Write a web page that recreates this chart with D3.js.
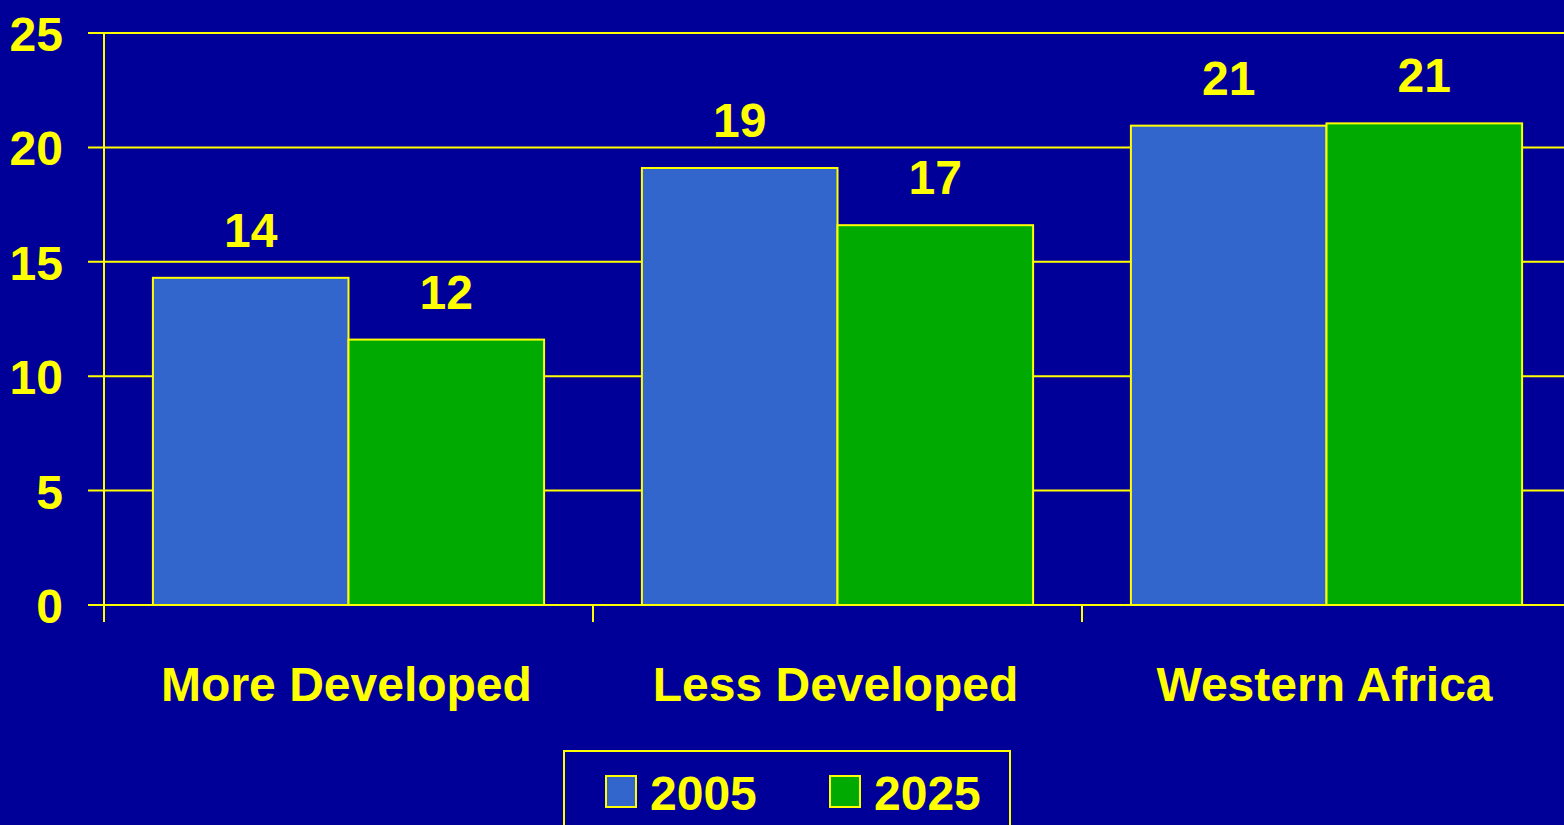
<!DOCTYPE html>
<html>
<head>
<meta charset="utf-8">
<script src="https://cdn.jsdelivr.net/npm/d3@7"></script>
<style>
  html, body { margin: 0; padding: 0; background: #000099; overflow: hidden; }
  svg { display: block; }
  text { font-family: "Liberation Sans", Arial, sans-serif; font-weight: bold; fill: #FFFF00; }
</style>
</head>
<body>
<svg id="chart" width="1564" height="825"></svg>
<script>
const categories = ["More Developed", "Less Developed", "Western Africa"];
const seriesNames = ["2005", "2025"];
const values2005 = [14.3, 19.1, 20.95];
const values2025 = [11.6, 16.6, 21.05];
const yTicks = [0, 5, 10, 15, 20, 25];
const colors = ["#3366CC", "#00AA00"];

const yellow = "#FFFF00";
const svg = d3.select("#chart");
const plotLeft = 104, plotTop = 33, plotBottom = 605, plotRight = 1571;

const x0 = d3.scaleBand().domain(categories).range([plotLeft, plotRight]).paddingInner(0).paddingOuter(0);
const x1 = d3.scaleBand().domain(seriesNames).range([0, x0.bandwidth()]).paddingInner(0).paddingOuter(0.25);
const y = d3.scaleLinear().domain([0, 25]).range([plotBottom, plotTop]);

const data = categories.map((c, i) => ({ cat: c, vals: [
  { s: seriesNames[0], v: values2005[i] },
  { s: seriesNames[1], v: values2025[i] }
]}));

// gridlines
svg.append("g").selectAll("line").data(yTicks).join("line")
  .attr("x1", plotLeft - 16).attr("x2", 1564)
  .attr("y1", d => y(d)).attr("y2", d => y(d))
  .attr("stroke", yellow).attr("stroke-width", 2);

// y tick labels
svg.append("g").selectAll("text").data(yTicks).join("text")
  .attr("x", 63).attr("y", d => y(d) + 18)
  .attr("text-anchor", "end").attr("font-size", 48)
  .text(d => d);

// bars
const groups = svg.append("g").selectAll("g").data(data).join("g")
  .attr("transform", d => `translate(${x0(d.cat)},0)`);
groups.selectAll("rect").data(d => d.vals).join("rect")
  .attr("x", d => x1(d.s)).attr("width", x1.bandwidth())
  .attr("y", d => y(d.v)).attr("height", d => y(0) - y(d.v))
  .attr("fill", (d, i) => colors[i])
  .attr("stroke", yellow).attr("stroke-width", 2);
groups.selectAll("text").data(d => d.vals).join("text")
  .attr("x", d => x1(d.s) + x1.bandwidth() / 2)
  .attr("y", d => y(d.v) - 31)
  .attr("text-anchor", "middle").attr("font-size", 48)
  .text(d => Math.round(d.v));

// y axis line
svg.append("line").attr("x1", plotLeft).attr("x2", plotLeft).attr("y1", plotTop).attr("y2", 622)
  .attr("stroke", yellow).attr("stroke-width", 2);
// baseline
svg.append("line").attr("x1", plotLeft - 16).attr("x2", 1564).attr("y1", plotBottom).attr("y2", plotBottom)
  .attr("stroke", yellow).attr("stroke-width", 2);
// category ticks at band boundaries
svg.append("g").selectAll("line").data(categories.slice(1)).join("line")
  .attr("x1", d => x0(d)).attr("x2", d => x0(d))
  .attr("y1", plotBottom).attr("y2", 622)
  .attr("stroke", yellow).attr("stroke-width", 2);

// category labels
svg.append("g").selectAll("text").data(categories).join("text")
  .attr("x", d => x0(d) + x0.bandwidth() / 2 - 2).attr("y", 701)
  .attr("text-anchor", "middle").attr("font-size", 48)
  .text(d => d);

// legend
const lg = svg.append("g");
lg.append("rect").attr("x", 564).attr("y", 751).attr("width", 446).attr("height", 90)
  .attr("fill", "none").attr("stroke", yellow).attr("stroke-width", 2);
const legX = [606, 830];
seriesNames.forEach((s, i) => {
  lg.append("rect").attr("x", legX[i]).attr("y", 776).attr("width", 30).attr("height", 31)
    .attr("fill", colors[i]).attr("stroke", yellow).attr("stroke-width", 2);
  lg.append("text").attr("x", legX[i] + 44).attr("y", 810).attr("font-size", 48).text(s);
});
</script>
</body>
</html>
